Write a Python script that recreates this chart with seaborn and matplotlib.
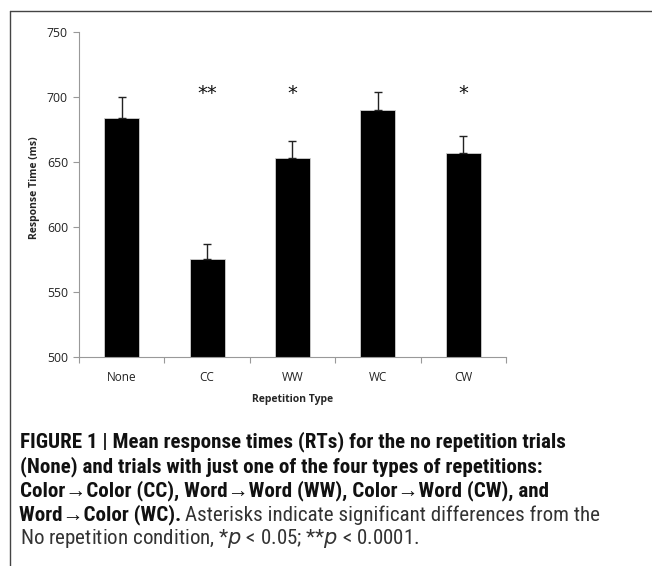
import numpy as np
import seaborn as sns
import matplotlib.pyplot as plt
from matplotlib.lines import Line2D

categories = ["None", "CC", "WW", "WC", "CW"]
mean_rt = [684, 575, 653, 690, 657]
sem_rt = [16, 12, 13, 14, 13]
stars = ["", "**", "*", "", "*"]
y_ticks = [500, 550, 600, 650, 700, 750]

sns.set_style("white")
plt.rcParams["font.family"] = ["Open Sans", "DejaVu Sans"]

fig = plt.figure(figsize=(6.52, 5.66), dpi=100)
ax = fig.add_axes([0.1212, 0.3693, 0.6548, 0.5742])

sns.barplot(x=categories, y=mean_rt, color="black", width=0.41,
            saturation=1, ax=ax, edgecolor="#d0d0d0", linewidth=0.6)
ax.errorbar(np.arange(len(categories)), mean_rt,
            yerr=[np.zeros(len(sem_rt)), sem_rt], fmt="none",
            ecolor="#222222", elinewidth=1, capsize=3, capthick=1)

for i, s in enumerate(stars):
    if s:
        ax.text(i, 703, s, ha="center", va="center", fontsize=14,
                family="DejaVu Sans", color="#111111")

ax.set_ylim(500, 750)
ax.set_xlim(-0.5, len(categories) - 0.5)
ax.set_yticks(y_ticks)
ax.set_xticks(np.arange(len(categories)))
ax.set_xticklabels(categories)
ax.set_xticks(np.arange(len(categories) + 1) - 0.5, minor=True)
ax.tick_params(axis="x", which="major", length=0, labelsize=8.5, colors="#222222", pad=10)
ax.tick_params(axis="x", which="minor", length=4, color="#999999", width=0.8, direction="out", bottom=True)
ax.tick_params(axis="y", length=4, color="#999999", width=0.8, direction="out", left=True,
               labelsize=8.8, labelcolor="#222222", pad=4)
for side in ["top", "right"]:
    ax.spines[side].set_visible(False)
for side in ["left", "bottom"]:
    ax.spines[side].set_color("#999999")
    ax.spines[side].set_linewidth(0.8)
ax.set_xlabel("Repetition Type", fontsize=7.5, fontweight="bold")
ax.set_ylabel("Response Time (ms)", fontsize=7.5, fontweight="bold")
ax.xaxis.set_label_coords(0.5, -0.115)
ax.yaxis.set_label_coords(-39 / 427, 0.52)

# frame around the figure
fig.add_artist(Line2D([10 / 652, 10 / 652], [0, 1 - 11 / 566], transform=fig.transFigure,
                      color="#444444", lw=1))
fig.add_artist(Line2D([10 / 652, 1], [1 - 11 / 566, 1 - 11 / 566], transform=fig.transFigure,
                      color="#444444", lw=1))

# caption
cap_font = ["Liberation Sans Narrow", "Roboto Condensed", "Liberation Sans", "DejaVu Sans"]
bold_lines = [
    "FIGURE 1 | Mean response times (RTs) for the no repetition trials",
    "(None) and trials with just one of the four types of repetitions:",
    "Color\u2192Color (CC), Word\u2192Word (WW), Color\u2192Word (CW), and",
]
line_y = [442, 467, 491, 515, 539]
renderer = fig.canvas.get_renderer()

# fit the caption size so the first line spans about the same width as the reference
probe = fig.text(0, 0, bold_lines[0], fontsize=12, fontweight="bold", family=cap_font)
w = probe.get_window_extent(renderer).width
probe.remove()
cap_size = 12 * 545 / w

for txt, y in zip(bold_lines, line_y):
    fig.text(20 / 652, 1 - y / 566, txt, fontsize=cap_size, fontweight="bold",
             family=cap_font, va="center", ha="left", color="#111111")

t4 = fig.text(19 / 652, 1 - line_y[3] / 566, "Word\u2192Color (WC).", fontsize=cap_size,
              fontweight="bold", family=cap_font, va="center", ha="left", color="#111111")
bb = t4.get_window_extent(renderer)
fig.text(bb.x1 / fig.bbox.width + 4 / 652, 1 - line_y[3] / 566,
         "Asterisks indicate significant differences from the", fontsize=cap_size,
         family=cap_font, va="center", ha="left", color="#333333")
fig.text(20 / 652, 1 - line_y[4] / 566,
         "No repetition condition, *$p$ < 0.05; **$p$ < 0.0001.", fontsize=cap_size,
         family=cap_font, va="center", ha="left", color="#333333")

fig.savefig("out.png", dpi=100)
